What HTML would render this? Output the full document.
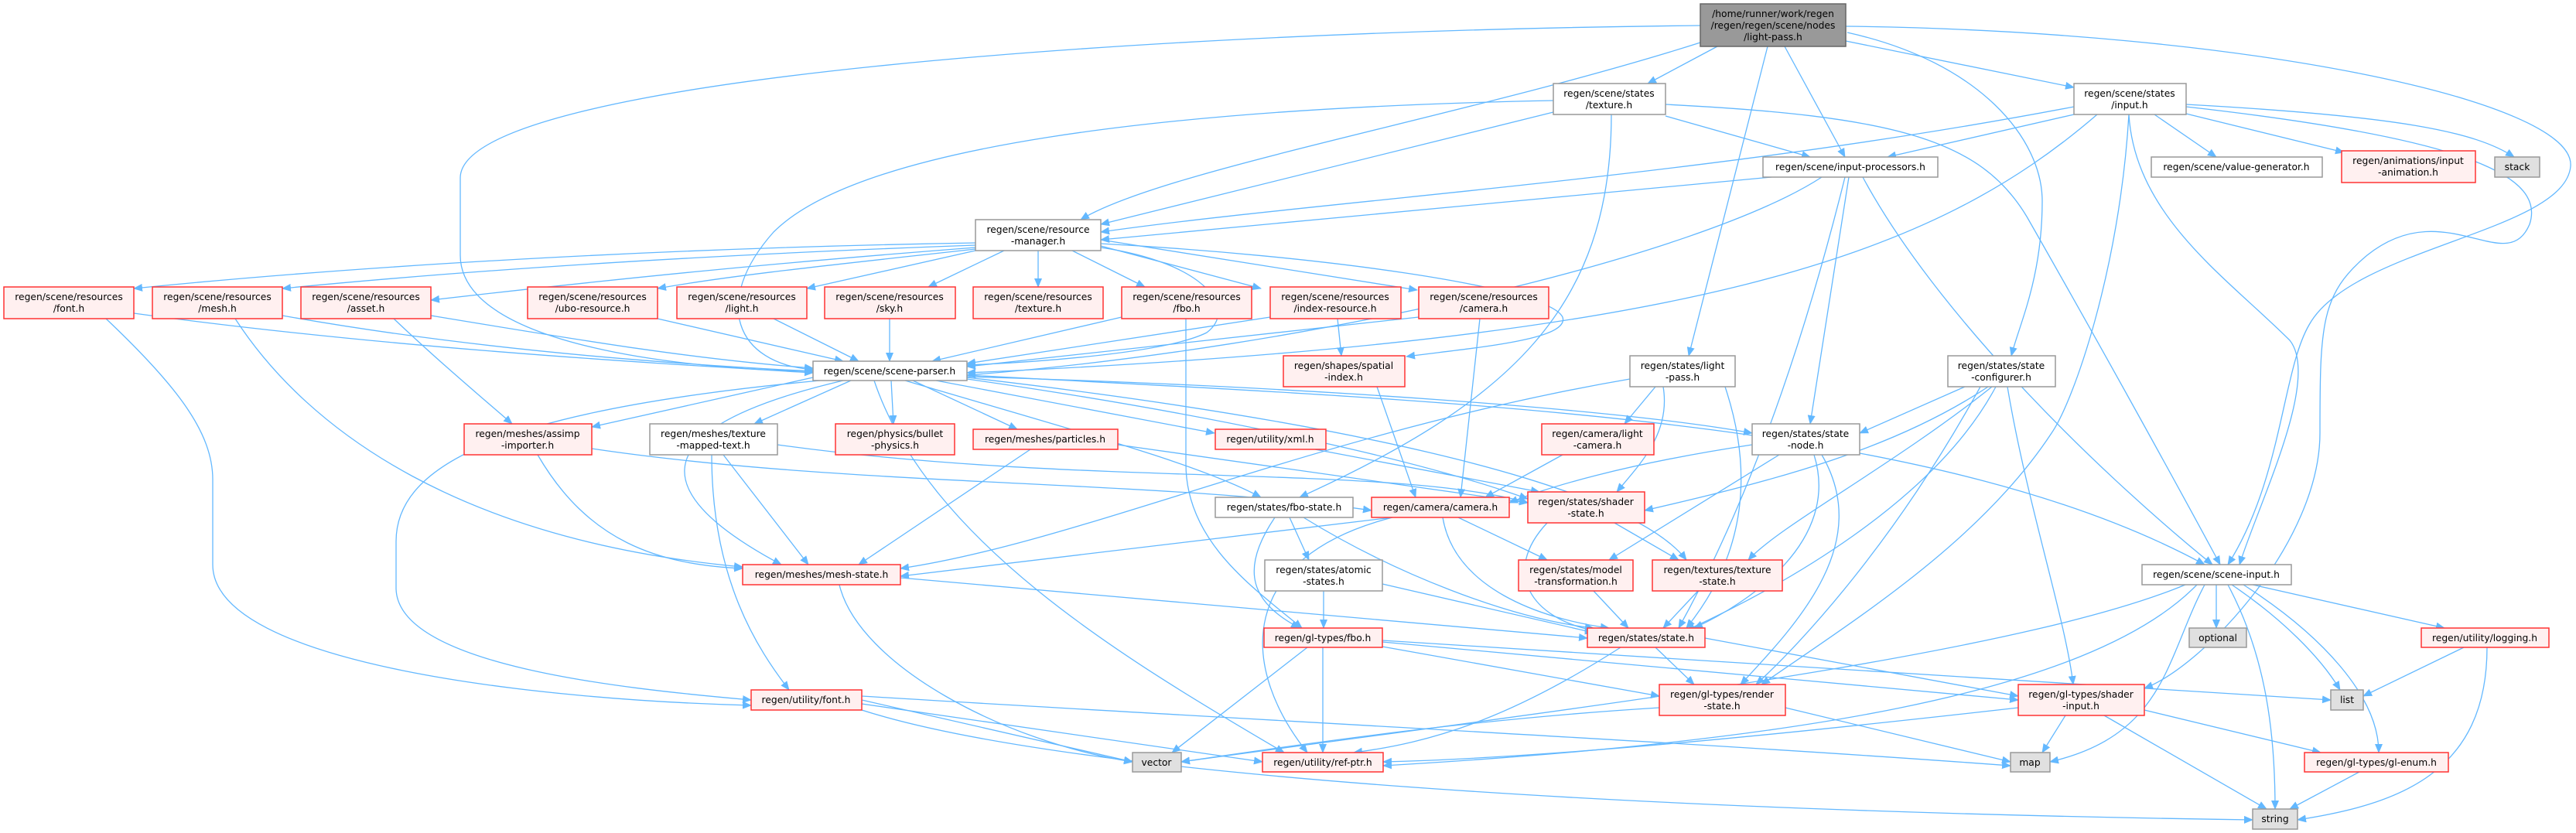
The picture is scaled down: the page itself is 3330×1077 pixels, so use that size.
<!DOCTYPE html>
<html><head><meta charset="utf-8"><style>
html,body{margin:0;padding:0;background:#fff;}
svg{display:block;}
text{font-family:"DejaVu Sans","Liberation Sans",sans-serif;font-size:12.3px;fill:#000;text-anchor:middle;}
.n rect{fill:#fff;stroke:#999;stroke-width:1.5;}
.r rect{fill:#fff0f0;stroke:#f33;stroke-width:1.5;}
.g rect{fill:#e0e0e0;stroke:#999;stroke-width:1.5;}
.t rect{fill:#999;stroke:#666;stroke-width:1.5;}
.e path{fill:none;stroke:#63b8ff;stroke-width:1.3;}
</style></head><body>
<svg width="3330" height="1077" viewBox="0 0 3330 1077" xmlns="http://www.w3.org/2000/svg">
<defs><marker id="a" markerWidth="12" markerHeight="10" refX="11" refY="5" orient="auto" markerUnits="userSpaceOnUse"><path d="M0,0 L12,5 L0,10 z" fill="#63b8ff"/></marker></defs>
<g class="e" marker-end="url(#a)">
<!-- TOP -->
<path d="M2198,33 C1500,40 595,100 595,230 L595,330 C595,450 900,478 1051,480" marker-end="url(#a)"/>
<path d="M2198,55 C1900,150 1500,220 1397,284" marker-end="url(#a)"/>
<path d="M2220,60 L2130,108" marker-end="url(#a)"/>
<path d="M2307,60 L2385,203" marker-end="url(#a)"/>
<path d="M2285,60 L2183,460" marker-end="url(#a)"/>
<path d="M2388,42 C2560,80 2640,180 2640,260 C2640,360 2610,420 2600,460" marker-end="url(#a)"/>
<path d="M2386,53 L2681,113" marker-end="url(#a)"/>
<path d="M2386,34 C2900,40 3330,130 3323,215 C3315,300 3040,320 2985,420 C2950,480 2950,620 2880,730" marker-end="url(#a)"/>
<!-- TEX -->
<path d="M2008,145 L1423,290" marker-end="url(#a)"/>
<path d="M2008,130 C1500,140 1110,190 1000,300 C920,390 950,470 1051,478" marker-end="url(#a)"/>
<path d="M2153,150 L2340,203" marker-end="url(#a)"/>
<path d="M2153,135 C2450,150 2560,180 2620,280 C2700,420 2800,600 2870,730" marker-end="url(#a)"/>
<path d="M2083,148 C2083,400 1950,520 1680,643" marker-end="url(#a)"/>
<!-- INP -->
<path d="M2681,148 L2440,203" marker-end="url(#a)"/>
<path d="M2681,138 C2200,230 1700,260 1423,300" marker-end="url(#a)"/>
<path d="M2711,148 C2500,330 2200,440 1250,482" marker-end="url(#a)"/>
<path d="M2785,148 L2865,203" marker-end="url(#a)"/>
<path d="M2826,147 L3030,197" marker-end="url(#a)"/>
<path d="M2826,135 C3100,150 3200,170 3250,203" marker-end="url(#a)"/>
<path d="M2826,138 C3200,180 3290,230 3270,290 C3240,360 3160,250 3060,330 C3000,380 2999,420 2999,560 C2999,700 2850,860 2772,890" marker-end="url(#a)"/>
<path d="M2752,148 C2760,280 2880,360 2960,440 C3000,490 2920,650 2895,730" marker-end="url(#a)"/>
<path d="M2752,148 C2740,350 2680,520 2652,560 C2560,700 2400,800 2277,885" marker-end="url(#a)"/>
<!-- IPROC -->
<path d="M2290,229 L1423,310" marker-end="url(#a)"/>
<path d="M2355,229 C2200,330 1700,450 1250,485" marker-end="url(#a)"/>
<path d="M2390,229 L2340,548" marker-end="url(#a)"/>
<path d="M2385,229 C2330,450 2260,650 2170,812" marker-end="url(#a)"/>
<path d="M2408,229 C2500,400 2700,600 2860,730" marker-end="url(#a)"/>
<!-- RM -->
<path d="M1261,314 C900,320 500,340 173,373" marker-end="url(#a)"/>
<path d="M1261,317 C900,330 600,350 365,373" marker-end="url(#a)"/>
<path d="M1261,320 C1000,340 800,360 557,388" marker-end="url(#a)"/>
<path d="M1261,322 C1100,340 950,355 850,373" marker-end="url(#a)"/>
<path d="M1261,324 L1043,373" marker-end="url(#a)"/>
<path d="M1298,324 L1200,371" marker-end="url(#a)"/>
<path d="M1342,324 L1342,371" marker-end="url(#a)"/>
<path d="M1386,324 L1480,371" marker-end="url(#a)"/>
<path d="M1423,318 L1630,373" marker-end="url(#a)"/>
<path d="M1423,310 L1832,375" marker-end="url(#a)"/>
<path d="M1423,315 C1700,330 2000,370 2020,410 C2030,440 1900,450 1818,461" marker-end="url(#a)"/>
<path d="M1423,320 C1560,340 1600,400 1560,430 C1500,460 1300,470 1250,472" marker-end="url(#a)"/>
<!-- resources -> SP -->
<path d="M173,405 C500,450 850,470 1051,482" marker-end="url(#a)"/>
<path d="M365,408 C600,450 850,470 1051,480" marker-end="url(#a)"/>
<path d="M557,408 C750,440 900,465 1051,476" marker-end="url(#a)"/>
<path d="M850,412 L1090,467" marker-end="url(#a)"/>
<path d="M1000,412 L1110,467" marker-end="url(#a)"/>
<path d="M1150,412 L1150,467" marker-end="url(#a)"/>
<path d="M1450,410 L1205,467" marker-end="url(#a)"/>
<path d="M1642,410 L1250,470" marker-end="url(#a)"/>
<path d="M1834,410 L1250,474" marker-end="url(#a)"/>
<path d="M1729,412 L1734,460" marker-end="url(#a)"/>
<path d="M1913,412 L1888,643" marker-end="url(#a)"/>
<path d="M1533,412 L1533,600 C1533,700 1620,760 1683,812" marker-end="url(#a)"/>
<path d="M137,412 C230,500 275,560 275,620 L275,730 C275,860 700,905 971,912" marker-end="url(#a)"/>
<path d="M304,412 C400,560 600,700 960,733" marker-end="url(#a)"/>
<path d="M509,412 C570,470 630,520 662,548" marker-end="url(#a)"/>
<!-- SP -->
<path d="M1051,488 L765,552" marker-end="url(#a)"/>
<path d="M1100,492 L975,548" marker-end="url(#a)"/>
<path d="M1152,492 L1155,548" marker-end="url(#a)"/>
<path d="M1180,492 L1315,555" marker-end="url(#a)"/>
<path d="M1210,492 L1570,560" marker-end="url(#a)"/>
<path d="M1170,492 C1400,560 1550,600 1630,643" marker-end="url(#a)"/>
<path d="M1250,487 C1700,500 2100,530 2265,560" marker-end="url(#a)"/>
<path d="M1250,485 C1900,520 2500,540 2850,730" marker-end="url(#a)"/>
<path d="M1250,490 C1600,540 1850,600 1975,645" marker-end="url(#a)"/>
<path d="M1250,488 C1700,540 2100,620 2180,724" marker-end="url(#a)"/>
<path d="M1090,492 C800,560 860,650 1010,730" marker-end="url(#a)"/>
<path d="M1060,492 C650,530 512,600 512,700 L512,760 C512,860 800,890 971,905" marker-end="url(#a)"/>
<path d="M1130,492 C1200,700 1450,850 1660,973" marker-end="url(#a)"/>
<!-- spatial, lpass, sconf -->
<path d="M1780,500 L1830,643" marker-end="url(#a)"/>
<path d="M2140,500 L2100,548" marker-end="url(#a)"/>
<path d="M2150,500 C2160,560 2120,600 2090,636" marker-end="url(#a)"/>
<path d="M2230,500 C2280,650 2230,750 2180,812" marker-end="url(#a)"/>
<path d="M2107,490 C1700,560 1400,700 1164,735" marker-end="url(#a)"/>
<path d="M2540,500 L2404,560" marker-end="url(#a)"/>
<path d="M2570,500 C2450,580 2300,620 2126,660" marker-end="url(#a)"/>
<path d="M2575,500 C2450,600 2300,680 2260,724" marker-end="url(#a)"/>
<path d="M2580,500 C2500,650 2300,760 2180,815" marker-end="url(#a)"/>
<path d="M2595,500 C2620,650 2670,800 2680,885" marker-end="url(#a)"/>
<path d="M2560,500 C2450,700 2330,830 2270,885" marker-end="url(#a)"/>
<!-- mid layer -->
<path d="M2020,588 L1920,643" marker-end="url(#a)"/>
<path d="M2265,575 C2100,600 2000,630 1951,650" marker-end="url(#a)"/>
<path d="M2300,588 L2080,724" marker-end="url(#a)"/>
<path d="M2345,588 C2380,700 2260,780 2190,812" marker-end="url(#a)"/>
<path d="M2355,588 C2420,700 2330,800 2250,885" marker-end="url(#a)"/>
<path d="M935,588 L1045,730" marker-end="url(#a)"/>
<path d="M920,588 C920,750 980,840 1020,892" marker-end="url(#a)"/>
<path d="M1005,575 C1400,630 1800,600 1975,650" marker-end="url(#a)"/>
<path d="M695,588 C760,700 850,730 960,735" marker-end="url(#a)"/>
<path d="M765,580 C1100,630 1500,620 1773,660" marker-end="url(#a)"/>
<path d="M1332,581 L1110,730" marker-end="url(#a)"/>
<path d="M1445,575 L1975,650" marker-end="url(#a)"/>
<path d="M1700,581 L1990,636" marker-end="url(#a)"/>
<path d="M1667,669 L1692,724" marker-end="url(#a)"/>
<path d="M1648,669 C1600,740 1620,780 1680,812" marker-end="url(#a)"/>
<path d="M1685,669 C1800,740 1950,800 2060,812" marker-end="url(#a)"/>
<path d="M1800,669 L1164,745" marker-end="url(#a)"/>
<path d="M1885,669 L2000,724" marker-end="url(#a)"/>
<path d="M1865,669 C1880,760 1990,800 2080,812" marker-end="url(#a)"/>
<path d="M1800,669 C1600,720 1600,860 1690,973" marker-end="url(#a)"/>
<path d="M2087,676 L2170,724" marker-end="url(#a)"/>
<path d="M2000,676 C1940,740 1980,800 2060,815" marker-end="url(#a)"/>
<path d="M1164,747 L2052,825" marker-end="url(#a)"/>
<path d="M1085,756 C1110,860 1300,960 1464,985" marker-end="url(#a)"/>
<path d="M1711,764 L1711,812" marker-end="url(#a)"/>
<path d="M1787,755 L2060,818" marker-end="url(#a)"/>
<path d="M2060,764 L2105,812" marker-end="url(#a)"/>
<path d="M2195,764 L2150,812" marker-end="url(#a)"/>
<!-- lower -->
<path d="M2140,837 L2190,885" marker-end="url(#a)"/>
<path d="M2204,825 L2609,900" marker-end="url(#a)"/>
<path d="M2095,837 C1950,930 1850,960 1750,973" marker-end="url(#a)"/>
<path d="M1690,837 L1515,973" marker-end="url(#a)"/>
<path d="M1710,837 L1710,973" marker-end="url(#a)"/>
<path d="M1787,836 L2145,900" marker-end="url(#a)"/>
<path d="M1787,830 L2609,905" marker-end="url(#a)"/>
<path d="M1787,828 L3013,905" marker-end="url(#a)"/>
<path d="M1114,905 L1464,985" marker-end="url(#a)"/>
<path d="M1114,910 L1632,985" marker-end="url(#a)"/>
<path d="M1114,900 C1600,930 2200,960 2599,990" marker-end="url(#a)"/>
<path d="M1114,918 C1400,1010 2200,1050 2912,1060" marker-end="url(#a)"/>
<path d="M2145,915 C1900,930 1700,960 1527,985" marker-end="url(#a)"/>
<path d="M2308,915 L2599,985" marker-end="url(#a)"/>
<path d="M2609,915 C2300,950 2000,980 1788,985" marker-end="url(#a)"/>
<path d="M2670,925 L2640,973" marker-end="url(#a)"/>
<path d="M2720,925 L2930,1046" marker-end="url(#a)"/>
<path d="M2772,918 L3000,973" marker-end="url(#a)"/>
<path d="M2825,756 C2600,850 2000,920 1527,985" marker-end="url(#a)"/>
<path d="M2840,756 C2700,900 2300,960 1788,990" marker-end="url(#a)"/>
<path d="M2850,756 C2800,850 2800,950 2650,985" marker-end="url(#a)"/>
<path d="M2865,756 L2865,812" marker-end="url(#a)"/>
<path d="M2880,756 C2930,850 2941,950 2941,1046" marker-end="url(#a)"/>
<path d="M2885,756 C2950,800 3000,850 3025,892" marker-end="url(#a)"/>
<path d="M2900,756 C3000,820 3075,900 3075,973" marker-end="url(#a)"/>
<path d="M2912,756 L3160,812" marker-end="url(#a)"/>
<path d="M3185,837 L3055,900" marker-end="url(#a)"/>
<path d="M3215,837 C3215,1000 3100,1040 2970,1060" marker-end="url(#a)"/>
<path d="M3050,998 L2960,1046" marker-end="url(#a)"/>
</g>

<g class="t"><rect x="2198" y="5" width="188" height="55"/><text x="2292" y="22">/home/runner/work/regen</text><text x="2292" y="37">/regen/regen/scene/nodes</text><text x="2292" y="52">/light-pass.h</text></g>

<g class="n"><rect x="2008" y="108" width="145" height="40"/><text x="2080" y="125">regen/scene/states</text><text x="2080" y="140">/texture.h</text></g>
<g class="n"><rect x="2681" y="108" width="145" height="40"/><text x="2753" y="125">regen/scene/states</text><text x="2753" y="140">/input.h</text></g>
<g class="n"><rect x="2279" y="203" width="226" height="26"/><text x="2392" y="220">regen/scene/input-processors.h</text></g>
<g class="n"><rect x="2781" y="203" width="221" height="26"/><text x="2891" y="220">regen/scene/value-generator.h</text></g>
<g class="r"><rect x="3027" y="195" width="173" height="41"/><text x="3113" y="212">regen/animations/input</text><text x="3113" y="227">-animation.h</text></g>
<g class="g"><rect x="3225" y="203" width="58" height="26"/><text x="3254" y="220">stack</text></g>
<g class="n"><rect x="1261" y="284" width="162" height="40"/><text x="1342" y="301">regen/scene/resource</text><text x="1342" y="316">-manager.h</text></g>

<g class="r"><rect x="5" y="371" width="168" height="41"/><text x="89" y="388">regen/scene/resources</text><text x="89" y="403">/font.h</text></g>
<g class="r"><rect x="197" y="371" width="168" height="41"/><text x="281" y="388">regen/scene/resources</text><text x="281" y="403">/mesh.h</text></g>
<g class="r"><rect x="389" y="371" width="168" height="41"/><text x="473" y="388">regen/scene/resources</text><text x="473" y="403">/asset.h</text></g>
<g class="r"><rect x="682" y="371" width="168" height="41"/><text x="766" y="388">regen/scene/resources</text><text x="766" y="403">/ubo-resource.h</text></g>
<g class="r"><rect x="875" y="371" width="168" height="41"/><text x="959" y="388">regen/scene/resources</text><text x="959" y="403">/light.h</text></g>
<g class="r"><rect x="1066" y="371" width="169" height="41"/><text x="1150" y="388">regen/scene/resources</text><text x="1150" y="403">/sky.h</text></g>
<g class="r"><rect x="1258" y="371" width="168" height="41"/><text x="1342" y="388">regen/scene/resources</text><text x="1342" y="403">/texture.h</text></g>
<g class="r"><rect x="1450" y="371" width="168" height="41"/><text x="1534" y="388">regen/scene/resources</text><text x="1534" y="403">/fbo.h</text></g>
<g class="r"><rect x="1642" y="371" width="169" height="41"/><text x="1726" y="388">regen/scene/resources</text><text x="1726" y="403">/index-resource.h</text></g>
<g class="r"><rect x="1834" y="371" width="168" height="41"/><text x="1918" y="388">regen/scene/resources</text><text x="1918" y="403">/camera.h</text></g>

<g class="n"><rect x="1051" y="467" width="199" height="25"/><text x="1150" y="484">regen/scene/scene-parser.h</text></g>
<g class="r"><rect x="1659" y="460" width="157" height="40"/><text x="1737" y="477">regen/shapes/spatial</text><text x="1737" y="492">-index.h</text></g>
<g class="n"><rect x="2107" y="460" width="136" height="40"/><text x="2175" y="477">regen/states/light</text><text x="2175" y="492">-pass.h</text></g>
<g class="n"><rect x="2518" y="460" width="139" height="40"/><text x="2587" y="477">regen/states/state</text><text x="2587" y="492">-configurer.h</text></g>

<g class="r"><rect x="600" y="548" width="165" height="40"/><text x="682" y="565">regen/meshes/assimp</text><text x="682" y="580">-importer.h</text></g>
<g class="n"><rect x="840" y="548" width="165" height="40"/><text x="922" y="565">regen/meshes/texture</text><text x="922" y="580">-mapped-text.h</text></g>
<g class="r"><rect x="1080" y="548" width="154" height="40"/><text x="1157" y="565">regen/physics/bullet</text><text x="1157" y="580">-physics.h</text></g>
<g class="r"><rect x="1258" y="555" width="187" height="26"/><text x="1351" y="572">regen/meshes/particles.h</text></g>
<g class="r"><rect x="1571" y="555" width="143" height="26"/><text x="1642" y="572">regen/utility/xml.h</text></g>
<g class="r"><rect x="1993" y="548" width="145" height="40"/><text x="2065" y="565">regen/camera/light</text><text x="2065" y="580">-camera.h</text></g>
<g class="n"><rect x="2265" y="548" width="139" height="40"/><text x="2334" y="565">regen/states/state</text><text x="2334" y="580">-node.h</text></g>

<g class="n"><rect x="1571" y="643" width="178" height="26"/><text x="1660" y="660">regen/states/fbo-state.h</text></g>
<g class="r"><rect x="1773" y="643" width="178" height="26"/><text x="1862" y="660">regen/camera/camera.h</text></g>
<g class="r"><rect x="1975" y="636" width="151" height="40"/><text x="2050" y="653">regen/states/shader</text><text x="2050" y="668">-state.h</text></g>

<g class="r"><rect x="960" y="730" width="204" height="26"/><text x="1062" y="747">regen/meshes/mesh-state.h</text></g>
<g class="n"><rect x="1635" y="724" width="152" height="40"/><text x="1711" y="741">regen/states/atomic</text><text x="1711" y="756">-states.h</text></g>
<g class="r"><rect x="1963" y="724" width="148" height="40"/><text x="2037" y="741">regen/states/model</text><text x="2037" y="756">-transformation.h</text></g>
<g class="r"><rect x="2136" y="724" width="168" height="40"/><text x="2220" y="741">regen/textures/texture</text><text x="2220" y="756">-state.h</text></g>
<g class="n"><rect x="2769" y="730" width="193" height="26"/><text x="2865" y="747">regen/scene/scene-input.h</text></g>

<g class="r"><rect x="1634" y="812" width="153" height="25"/><text x="1710" y="829">regen/gl-types/fbo.h</text></g>
<g class="r"><rect x="2052" y="812" width="152" height="25"/><text x="2128" y="829">regen/states/state.h</text></g>
<g class="g"><rect x="2830" y="812" width="74" height="25"/><text x="2867" y="829">optional</text></g>
<g class="r"><rect x="3130" y="812" width="165" height="25"/><text x="3212" y="829">regen/utility/logging.h</text></g>

<g class="r"><rect x="971" y="892" width="143" height="26"/><text x="1042" y="909">regen/utility/font.h</text></g>
<g class="r"><rect x="2145" y="885" width="163" height="40"/><text x="2226" y="902">regen/gl-types/render</text><text x="2226" y="917">-state.h</text></g>
<g class="r"><rect x="2609" y="885" width="163" height="40"/><text x="2690" y="902">regen/gl-types/shader</text><text x="2690" y="917">-input.h</text></g>
<g class="g"><rect x="3013" y="892" width="42" height="26"/><text x="3034" y="909">list</text></g>

<g class="g"><rect x="1464" y="973" width="63" height="25"/><text x="1495" y="990">vector</text></g>
<g class="r"><rect x="1632" y="973" width="156" height="25"/><text x="1710" y="990">regen/utility/ref-ptr.h</text></g>
<g class="g"><rect x="2599" y="973" width="51" height="25"/><text x="2624" y="990">map</text></g>
<g class="r"><rect x="2979" y="973" width="186" height="25"/><text x="3072" y="990">regen/gl-types/gl-enum.h</text></g>
<g class="g"><rect x="2912" y="1046" width="58" height="26"/><text x="2941" y="1063">string</text></g>
</svg>
</body></html>
